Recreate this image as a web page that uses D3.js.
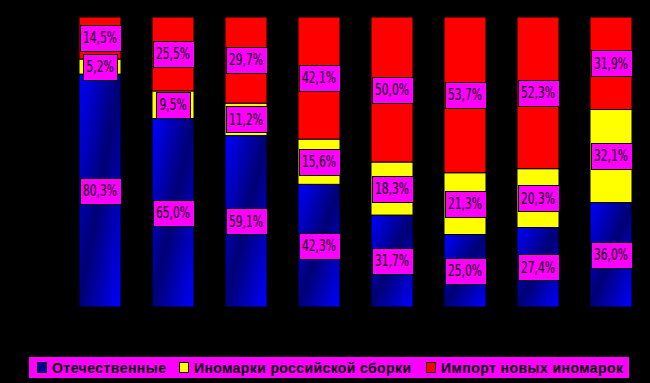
<!DOCTYPE html>
<html><head><meta charset="utf-8">
<script src="https://cdn.jsdelivr.net/npm/d3@7"></script>
<style>html,body{margin:0;padding:0;background:#000;}svg{display:block;}</style>
</head><body>
<script>
const categories = ["1","2","3","4","5","6","7","8"];
const seriesNames = ["Отечественные","Иномарки российской сборки","Импорт новых иномарок"];
const domestic = [80.3, 65.0, 59.1, 42.3, 31.7, 25.0, 27.4, 36.0];
const foreignAssembled = [5.2, 9.5, 11.2, 15.6, 18.3, 21.3, 20.3, 32.1];
const imported = [14.5, 25.5, 29.7, 42.1, 50.0, 53.7, 52.3, 31.9];
const seriesValues = [domestic, foreignAssembled, imported];

const W = 650, H = 383;
const svg = d3.select("body").append("svg").attr("width", W).attr("height", H);
svg.append("rect").attr("width", W).attr("height", H).attr("fill", "#000");

const defs = svg.append("defs");
const g = defs.append("linearGradient").attr("id","blueGrad")
  .attr("x1","0").attr("y1","0").attr("x2","1").attr("y2","1");
g.append("stop").attr("offset","0").attr("stop-color","#0000ff");
g.append("stop").attr("offset","0.5").attr("stop-color","#000075");
g.append("stop").attr("offset","1").attr("stop-color","#0000ff");
const fills = ["url(#blueGrad)", "#ffff00", "#ff0000"];

const pi = 31/73;
const x = d3.scaleBand().domain(categories).range([63.5, 647.5]).paddingInner(pi).paddingOuter(pi/2);
const y = d3.scaleLinear().domain([0, 100]).range([307, 17]);

const rows = categories.map((c, i) => {
  const r = {cat: c};
  seriesNames.forEach((s, k) => r[s] = seriesValues[k][i]);
  return r;
});
const stacked = d3.stack().keys(seriesNames)(rows);

const fmt = v => d3.format(".1f")(v).replace(".", ",") + "%";

stacked.forEach((layer, k) => {
  svg.append("g").selectAll("rect").data(layer).join("rect")
    .attr("x", d => x(d.data.cat))
    .attr("width", x.bandwidth())
    .attr("y", d => y(d[1]))
    .attr("height", d => y(d[0]) - y(d[1]))
    .attr("fill", fills[k])
    .attr("stroke", "#000").attr("stroke-width", 1);
});

// labels
const labelFont = "'Liberation Sans Narrow','DejaVu Sans Condensed','Liberation Sans',Arial,sans-serif";
stacked.forEach((layer, k) => {
  layer.forEach(d => {
    const cx = x(d.data.cat) + x.bandwidth()/2;
    const cy = (y(d[0]) + y(d[1]))/2;
    const label = fmt(d[1]-d[0]);
    const tw = label.length >= 5 ? 34 : 27;
    const w = tw + 7;
    const lg = svg.append("g");
    lg.append("rect").attr("x", Math.round(cx - w/2) + 0.5).attr("y", Math.round(cy - 13) + 0.5)
      .attr("width", w).attr("height", 26)
      .attr("fill", "#ff00ff").attr("stroke", "#000").attr("stroke-width", 1);
    lg.append("text").attr("x", cx).attr("y", cy).attr("dy", "0.36em")
      .attr("text-anchor","middle").attr("font-family", labelFont).attr("font-size", 15)
      .attr("textLength", tw).attr("lengthAdjust", "spacingAndGlyphs")
      .attr("fill","#000").text(label);
  });
});

// legend
const legendX = [37, 179, 426];
const legendTextW = [114, 217, 182];
const leg = svg.append("g");
leg.append("rect").attr("x", 29).attr("y", 357).attr("width", 600).attr("height", 21).attr("fill", "#ff00ff");
seriesNames.forEach((s, k) => {
  const lx = legendX[k];
  leg.append("rect").attr("x", lx + 0.5).attr("y", 362.5).attr("width", 9).attr("height", 10)
    .attr("fill", fills[k]).attr("stroke", "#000").attr("stroke-width", 1);
  leg.append("text").attr("x", lx + 15).attr("y", 367.5).attr("dy", "0.36em")
    .attr("font-family", "'Liberation Sans',Arial,sans-serif").attr("font-weight", "bold")
    .attr("font-size", 14).attr("fill", "#000")
    .attr("textLength", legendTextW[k]).attr("lengthAdjust", "spacing").text(s);
});
</script>
</body></html>
